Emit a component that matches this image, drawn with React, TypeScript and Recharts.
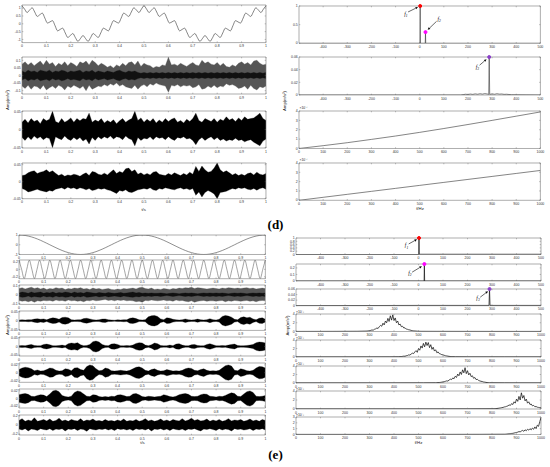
import React from 'react';
import { ComposedChart, Line, Area, XAxis, YAxis, ReferenceArea, ReferenceDot, ReferenceLine } from 'recharts';

// ---------- sampling grids ----------
const grid = (n: number) => Array.from({ length: n + 1 }, (_, i) => i / n);
const T80 = grid(80);
const T96 = grid(96);

// ---------- tick labels ----------
const LT = [0, 0.1, 0.2, 0.3, 0.4, 0.5, 0.6, 0.7, 0.8, 0.9, 1];
const RT_SYM = [-400, -300, -200, -100, 0, 100, 200, 300, 400, 500];
const RT_POS = [0, 100, 200, 300, 400, 500, 600, 700, 800, 900, 1000];

// ---------- (d) left ----------
const D1 = [
  1.15, 0.94, 0.72, 0.88, 1.02, 0.75, 0.47, 0.58,
  0.68, 0.36, 0.05, 0.12, 0.2, -0.12, -0.45, -0.36,
  -0.28, -0.58, -0.87, -0.75, -0.62, -0.88, -1.12, -0.94,
  -0.75, -0.94, -1.12, -0.88, -0.62, -0.75, -0.87, -0.58,
  -0.28, -0.36, -0.45, -0.12, 0.2, 0.12, 0.05, 0.36,
  0.68, 0.58, 0.47, 0.75, 1.02, 0.88, 0.72, 0.94,
  1.15, 0.94, 0.72, 0.88, 1.02, 0.75, 0.47, 0.58,
  0.68, 0.36, 0.05, 0.12, 0.2, -0.12, -0.45, -0.36,
  -0.28, -0.58, -0.87, -0.75, -0.62, -0.88, -1.12, -0.94,
  -0.75, -0.94, -1.12, -0.88, -0.62, -0.75, -0.87, -0.58,
  -0.28, -0.36, -0.45, -0.12, 0.2, 0.12, 0.05, 0.36,
  0.68, 0.58, 0.47, 0.75, 1.02, 0.88, 0.72, 0.94,
  1.15,
];
const D2_HI = [
  0.075, 0.09, 0.07, 0.085, 0.065, 0.08, 0.095, 0.07, 0.1,
  0.075, 0.085, 0.06, 0.08, 0.07, 0.09, 0.065, 0.085, 0.075,
  0.06, 0.09, 0.08, 0.095, 0.07, 0.1, 0.085, 0.065, 0.08,
  0.07, 0.055, 0.065, 0.05, 0.07, 0.06, 0.08, 0.065, 0.085,
  0.09, 0.07, 0.095, 0.06, 0.08, 0.07, 0.065, 0.05, 0.06,
  0.055, 0.07, 0.065, 0.12, 0.07, 0.075, 0.065, 0.08, 0.07,
  0.06, 0.075, 0.085, 0.07, 0.065, 0.1, 0.08, 0.09, 0.075,
  0.07, 0.085, 0.065, 0.08, 0.06, 0.055, 0.07, 0.06, 0.08,
  0.09, 0.075, 0.085, 0.07, 0.095, 0.1, 0.08, 0.07, 0.075,
];
const D2_LO = [
  -0.07, -0.085, -0.065, -0.09, -0.07, -0.075, -0.09, -0.065, -0.095,
  -0.08, -0.07, -0.085, -0.065, -0.075, -0.095, -0.07, -0.08, -0.065,
  -0.075, -0.085, -0.07, -0.1, -0.065, -0.09, -0.08, -0.07, -0.075,
  -0.06, -0.07, -0.055, -0.065, -0.05, -0.07, -0.06, -0.075, -0.08,
  -0.085, -0.065, -0.09, -0.07, -0.06, -0.075, -0.055, -0.065, -0.05,
  -0.06, -0.065, -0.07, -0.11, -0.065, -0.07, -0.06, -0.075, -0.065,
  -0.07, -0.065, -0.08, -0.075, -0.06, -0.09, -0.085, -0.07, -0.08,
  -0.065, -0.08, -0.07, -0.075, -0.055, -0.065, -0.06, -0.07, -0.085,
  -0.08, -0.07, -0.09, -0.065, -0.085, -0.095, -0.075, -0.08, -0.07,
];
const D2_CORE = [
  0.03, 0.02, 0.035, 0.025, 0.03, 0.02, 0.035, 0.03, 0.025,
  0.035, 0.02, 0.03, 0.025, 0.035, 0.03, 0.02, 0.03, 0.025,
  0.03, 0.035, 0.02, 0.03, 0.025, 0.035, 0.02, 0.03, 0.025,
  0.02, 0.03, 0.025, 0.02, 0.03, 0.035, 0.025, 0.02, 0.03,
  0.025, 0.03, 0.02, 0.015, 0.02, 0.015, 0.02, 0.015, 0.02,
  0.015, 0.02, 0.015, 0.02, 0.015, 0.02, 0.015, 0.02, 0.015,
  0.02, 0.015, 0.02, 0.015, 0.02, 0.015, 0.02, 0.015, 0.02,
  0.015, 0.02, 0.015, 0.02, 0.015, 0.02, 0.015, 0.02, 0.015,
  0.02, 0.015, 0.02, 0.015, 0.02, 0.015, 0.02, 0.015, 0.02,
];
const D3_HI = [
  0.02, 0.028, 0.018, 0.03, 0.022, 0.026, 0.016, 0.03, 0.024,
  0.028, 0.05, 0.022, 0.018, 0.03, 0.02, 0.025, 0.032, 0.02,
  0.03, 0.024, 0.03, 0.028, 0.045, 0.02, 0.026, 0.022, 0.03,
  0.018, 0.025, 0.02, 0.027, 0.016, 0.024, 0.03, 0.02, 0.026,
  0.03, 0.05, 0.025, 0.032, 0.02, 0.028, 0.022, 0.03, 0.018,
  0.026, 0.02, 0.03, 0.022, 0.028, 0.032, 0.02, 0.025, 0.018,
  0.028, 0.022, 0.03, 0.045, 0.025, 0.02, 0.03, 0.026, 0.022,
  0.03, 0.02, 0.028, 0.024, 0.035, 0.026, 0.03, 0.022, 0.032,
  0.025, 0.035, 0.028, 0.03, 0.032, 0.038, 0.045, 0.03, 0.025,
];
const D3_LO = [
  -0.022, -0.03, -0.02, -0.028, -0.018, -0.025, -0.02, -0.028, -0.022,
  -0.025, -0.05, -0.02, -0.025, -0.028, -0.018, -0.026, -0.03, -0.022,
  -0.028, -0.022, -0.032, -0.026, -0.04, -0.022, -0.03, -0.02, -0.026,
  -0.02, -0.024, -0.018, -0.026, -0.02, -0.022, -0.028, -0.018, -0.025,
  -0.028, -0.045, -0.022, -0.03, -0.024, -0.026, -0.02, -0.028, -0.02,
  -0.024, -0.022, -0.028, -0.02, -0.026, -0.03, -0.022, -0.024, -0.02,
  -0.026, -0.024, -0.03, -0.042, -0.028, -0.022, -0.03, -0.024, -0.02,
  -0.028, -0.022, -0.03, -0.026, -0.032, -0.028, -0.03, -0.024, -0.03,
  -0.028, -0.034, -0.03, -0.028, -0.035, -0.04, -0.045, -0.032, -0.026,
];
const D4_HI = [
  0.018, 0.02, 0.026, 0.03, 0.032, 0.024, 0.028, 0.03, 0.035,
  0.028, 0.032, 0.025, 0.018, 0.022, 0.016, 0.02, 0.018, 0.022,
  0.02, 0.016, 0.022, 0.026, 0.018, 0.03, 0.028, 0.022, 0.02,
  0.025, 0.02, 0.028, 0.035, 0.024, 0.03, 0.026, 0.038, 0.04,
  0.03, 0.035, 0.022, 0.026, 0.02, 0.024, 0.02, 0.028, 0.03,
  0.022, 0.02, 0.018, 0.024, 0.02, 0.026, 0.022, 0.018, 0.024,
  0.02, 0.028, 0.022, 0.045, 0.03, 0.046, 0.035, 0.028, 0.03,
  0.04, 0.055, 0.035, 0.028, 0.032, 0.026, 0.02, 0.024, 0.018,
  0.022, 0.018, 0.024, 0.026, 0.02, 0.028, 0.022, 0.02, 0.024,
];
const D4_LO = [
  -0.02, -0.024, -0.03, -0.028, -0.025, -0.022, -0.026, -0.028, -0.03,
  -0.026, -0.028, -0.022, -0.02, -0.018, -0.022, -0.016, -0.02, -0.018,
  -0.022, -0.018, -0.02, -0.024, -0.02, -0.026, -0.024, -0.02, -0.022,
  -0.02, -0.024, -0.026, -0.03, -0.035, -0.026, -0.028, -0.024, -0.03,
  -0.032, -0.028, -0.024, -0.022, -0.02, -0.022, -0.018, -0.024, -0.026,
  -0.02, -0.022, -0.018, -0.02, -0.022, -0.024, -0.02, -0.018, -0.022,
  -0.02, -0.024, -0.02, -0.04, -0.03, -0.045, -0.032, -0.026, -0.03,
  -0.036, -0.05, -0.032, -0.03, -0.028, -0.024, -0.02, -0.022, -0.018,
  -0.02, -0.018, -0.022, -0.024, -0.02, -0.025, -0.02, -0.018, -0.022,
];

// ---------- (d) right ----------
const RD1_F = [-500, 0, 1, 2, 3, 23, 24, 25, 500];
const RD1_A = [0, 0, 0, 1, 0, 0, 0.3, 0, 0];
const RD2_F = [-500, 0, 170, 180, 190, 200, 210, 220, 230, 240, 250, 260, 270, 280, 286, 288, 290, 300, 310, 320, 330, 340, 350, 360, 370, 380, 500];
const RD2_A = [0, 0, 0, 0.0006, 0.0012, 0.0008, 0.0015, 0.001, 0.0018, 0.0012, 0.002, 0.0014, 0.0022, 0.0016, 0.001, 0.06, 0.001, 0.0018, 0.0012, 0.002, 0.0014, 0.0016, 0.001, 0.0012, 0.0008, 0.0004, 0];
const RD3_A = [0, 0.3, 0.62, 0.97, 1.33, 1.72, 2.13, 2.56, 3.0, 3.45, 3.9];
const RD4_A = [0, 0.32, 0.64, 0.96, 1.28, 1.6, 1.92, 2.24, 2.56, 2.88, 3.2];

// ---------- (e) left ----------
const E1 = [
  1, 0.988, 0.951, 0.891, 0.809, 0.707, 0.588, 0.454, 0.309,
  0.156, 0, -0.156, -0.309, -0.454, -0.588, -0.707, -0.809, -0.891,
  -0.951, -0.988, -1, -0.988, -0.951, -0.891, -0.809, -0.707, -0.588,
  -0.454, -0.309, -0.156, 0, 0.156, 0.309, 0.454, 0.588, 0.707,
  0.809, 0.891, 0.951, 0.988, 1, 0.988, 0.951, 0.891, 0.809,
  0.707, 0.588, 0.454, 0.309, 0.156, 0, -0.156, -0.309, -0.454,
  -0.588, -0.707, -0.809, -0.891, -0.951, -0.988, -1, -0.988, -0.951,
  -0.891, -0.809, -0.707, -0.588, -0.454, -0.309, -0.156, 0, 0.156,
  0.309, 0.454, 0.588, 0.707, 0.809, 0.891, 0.951, 0.988, 1,
];
const E2 = [
  0.25, 0, -0.25, 0, 0.25, 0, -0.25, 0,
  0.25, 0, -0.25, 0, 0.25, 0, -0.25, 0,
  0.25, 0, -0.25, 0, 0.25, 0, -0.25, 0,
  0.25, 0, -0.25, 0, 0.25, 0, -0.25, 0,
  0.25, 0, -0.25, 0, 0.25, 0, -0.25, 0,
  0.25, 0, -0.25, 0, 0.25, 0, -0.25, 0,
  0.25, 0, -0.25, 0, 0.25, 0, -0.25, 0,
  0.25, 0, -0.25, 0, 0.25, 0, -0.25, 0,
  0.25, 0, -0.25, 0, 0.25, 0, -0.25, 0,
  0.25, 0, -0.25, 0, 0.25, 0, -0.25, 0,
  0.25, 0, -0.25, 0, 0.25, 0, -0.25, 0,
  0.25, 0, -0.25, 0, 0.25, 0, -0.25, 0,
  0.25,
];
const E3_HI = [
  0.07, 0.08, 0.065, 0.075, 0.085, 0.07, 0.08, 0.065, 0.075,
  0.06, 0.07, 0.065, 0.08, 0.07, 0.075, 0.06, 0.07, 0.065,
  0.075, 0.07, 0.08, 0.065, 0.07, 0.06, 0.075, 0.065, 0.07,
  0.06, 0.065, 0.07, 0.06, 0.055, 0.065, 0.06, 0.07, 0.065,
  0.07, 0.075, 0.065, 0.08, 0.085, 0.07, 0.065, 0.075, 0.06,
  0.065, 0.06, 0.07, 0.065, 0.06, 0.07, 0.065, 0.075, 0.07,
  0.08, 0.075, 0.085, 0.07, 0.08, 0.075, 0.07, 0.065, 0.07,
  0.075, 0.07, 0.065, 0.075, 0.07, 0.08, 0.075, 0.07, 0.075,
  0.07, 0.075, 0.08, 0.07, 0.075, 0.065, 0.07, 0.075, 0.07,
];
const E3_LO = [
  -0.065, -0.075, -0.07, -0.08, -0.07, -0.085, -0.07, -0.075, -0.065,
  -0.07, -0.065, -0.075, -0.06, -0.07, -0.065, -0.075, -0.06, -0.07,
  -0.065, -0.075, -0.07, -0.08, -0.065, -0.07, -0.06, -0.07, -0.065,
  -0.06, -0.055, -0.065, -0.06, -0.07, -0.06, -0.065, -0.06, -0.07,
  -0.065, -0.07, -0.08, -0.075, -0.085, -0.065, -0.07, -0.06, -0.065,
  -0.07, -0.065, -0.06, -0.07, -0.065, -0.075, -0.06, -0.07, -0.065,
  -0.075, -0.08, -0.07, -0.085, -0.075, -0.07, -0.065, -0.075, -0.07,
  -0.07, -0.075, -0.07, -0.065, -0.08, -0.07, -0.075, -0.065, -0.07,
  -0.075, -0.07, -0.065, -0.075, -0.07, -0.08, -0.07, -0.065, -0.07,
];
const E3_CORE = [
  0.02, 0.03, 0.025, 0.015, 0.03, 0.02, 0.025, 0.03, 0.015,
  0.025, 0.02, 0.03, 0.015, 0.025, 0.02, 0.03, 0.025, 0.015,
  0.03, 0.02, 0.025, 0.015, 0.03, 0.025, 0.02, 0.015, 0.025,
  0.02, 0.015, 0.025, 0.02, 0.015, 0.02, 0.025, 0.015, 0.02,
  0.025, 0.03, 0.02, 0.025, 0.015, 0.02, 0.015, 0.02, 0.015,
  0.015, 0.02, 0.015, 0.01, 0.015, 0.02, 0.015, 0.01, 0.015,
  0.02, 0.015, 0.02, 0.015, 0.01, 0.015, 0.02, 0.015, 0.02,
  0.015, 0.02, 0.015, 0.02, 0.015, 0.01, 0.015, 0.02, 0.015,
  0.02, 0.015, 0.01, 0.015, 0.02, 0.015, 0.02, 0.015, 0.02,
];
const E4_ENV = [
  0.004, 0.005, 0.004, 0.006, 0.005, 0.009, 0.011, 0.008, 0.01,
  0.005, 0.012, 0.016, 0.014, 0.008, 0.018, 0.02, 0.016, 0.006,
  0.004, 0.005, 0.006, 0.012, 0.014, 0.01, 0.006, 0.004, 0.005,
  0.009, 0.01, 0.005, 0.004, 0.003, 0.005, 0.004, 0.006, 0.005,
  0.014, 0.016, 0.012, 0.005, 0.004, 0.006, 0.022, 0.028, 0.03,
  0.024, 0.01, 0.006, 0.016, 0.014, 0.008, 0.005, 0.004, 0.005,
  0.01, 0.006, 0.004, 0.005, 0.009, 0.005, 0.004, 0.006, 0.011,
  0.006, 0.004, 0.008, 0.024, 0.03, 0.026, 0.02, 0.008, 0.005,
  0.018, 0.022, 0.016, 0.02, 0.01, 0.005, 0.014, 0.016, 0.008,
];
const E5_ENV = [
  0.004, 0.006, 0.005, 0.008, 0.012, 0.006, 0.004, 0.005, 0.012,
  0.014, 0.01, 0.005, 0.004, 0.006, 0.008, 0.005, 0.016, 0.02,
  0.018, 0.022, 0.01, 0.005, 0.006, 0.012, 0.028, 0.032, 0.026,
  0.012, 0.006, 0.005, 0.014, 0.016, 0.012, 0.005, 0.004, 0.006,
  0.005, 0.008, 0.018, 0.022, 0.02, 0.008, 0.005, 0.01, 0.02,
  0.016, 0.006, 0.004, 0.005, 0.008, 0.005, 0.014, 0.016, 0.008,
  0.005, 0.004, 0.01, 0.012, 0.006, 0.004, 0.005, 0.012, 0.016,
  0.01, 0.005, 0.004, 0.006, 0.005, 0.008, 0.012, 0.014, 0.006,
  0.004, 0.005, 0.006, 0.008, 0.012, 0.022, 0.026, 0.024, 0.02,
];
const E6_ENV = [
  0.008, 0.012, 0.014, 0.013, 0.01, 0.005, 0.007, 0.004, 0.005,
  0.008, 0.012, 0.011, 0.006, 0.004, 0.005, 0.01, 0.009, 0.005,
  0.012, 0.013, 0.008, 0.006, 0.016, 0.02, 0.018, 0.01, 0.005,
  0.006, 0.012, 0.01, 0.005, 0.004, 0.005, 0.006, 0.005, 0.004,
  0.006, 0.01, 0.014, 0.015, 0.012, 0.006, 0.004, 0.008, 0.01,
  0.006, 0.004, 0.005, 0.008, 0.006, 0.004, 0.005, 0.004, 0.006,
  0.01, 0.012, 0.011, 0.006, 0.005, 0.008, 0.01, 0.006, 0.004,
  0.005, 0.004, 0.006, 0.012, 0.018, 0.02, 0.017, 0.006, 0.005,
  0.01, 0.008, 0.005, 0.004, 0.006, 0.012, 0.016, 0.015, 0.012,
];
const E7_ENV = [
  0.01, 0.012, 0.013, 0.011, 0.006, 0.005, 0.008, 0.01, 0.009,
  0.005, 0.012, 0.02, 0.022, 0.018, 0.008, 0.005, 0.004, 0.006,
  0.016, 0.02, 0.018, 0.012, 0.006, 0.005, 0.01, 0.009, 0.005,
  0.004, 0.005, 0.004, 0.006, 0.005, 0.009, 0.01, 0.008, 0.005,
  0.006, 0.012, 0.013, 0.01, 0.005, 0.004, 0.006, 0.005, 0.004,
  0.005, 0.006, 0.01, 0.008, 0.005, 0.004, 0.006, 0.01, 0.012,
  0.013, 0.011, 0.006, 0.005, 0.006, 0.01, 0.012, 0.011, 0.006,
  0.005, 0.004, 0.006, 0.005, 0.008, 0.012, 0.015, 0.013, 0.006,
  0.005, 0.012, 0.018, 0.02, 0.016, 0.006, 0.005, 0.006, 0.008,
];
const E8_HI = [
  0.1, 0.14, 0.08, 0.11, 0.09, 0.16, 0.08, 0.1, 0.12,
  0.09, 0.13, 0.08, 0.1, 0.15, 0.09, 0.11, 0.08, 0.12,
  0.1, 0.09, 0.14, 0.08, 0.11, 0.1, 0.13, 0.09, 0.1,
  0.08, 0.12, 0.09, 0.1, 0.08, 0.11, 0.09, 0.13, 0.08,
  0.1, 0.09, 0.12, 0.08, 0.1, 0.14, 0.09, 0.11, 0.08,
  0.1, 0.13, 0.09, 0.11, 0.08, 0.12, 0.1, 0.09, 0.14,
  0.09, 0.11, 0.15, 0.1, 0.12, 0.09, 0.1, 0.13, 0.08,
  0.11, 0.09, 0.12, 0.08, 0.1, 0.14, 0.09, 0.11, 0.1,
  0.12, 0.08, 0.1, 0.13, 0.09, 0.11, 0.08, 0.12, 0.1,
];
const E8_LO = [
  -0.09, -0.11, -0.08, -0.13, -0.09, -0.1, -0.12, -0.08, -0.1,
  -0.11, -0.08, -0.12, -0.09, -0.1, -0.08, -0.13, -0.09, -0.1,
  -0.08, -0.12, -0.09, -0.1, -0.14, -0.08, -0.1, -0.11, -0.09,
  -0.1, -0.08, -0.11, -0.09, -0.12, -0.08, -0.1, -0.09, -0.11,
  -0.09, -0.12, -0.08, -0.1, -0.09, -0.11, -0.08, -0.13, -0.09,
  -0.1, -0.08, -0.11, -0.09, -0.12, -0.08, -0.1, -0.11, -0.09,
  -0.12, -0.09, -0.1, -0.08, -0.11, -0.13, -0.09, -0.1, -0.08,
  -0.1, -0.12, -0.08, -0.11, -0.09, -0.1, -0.13, -0.08, -0.1,
  -0.09, -0.11, -0.1, -0.08, -0.12, -0.09, -0.1, -0.08, -0.11,
];

// ---------- (e) right ----------
const RE1_F = [-500, 0, 1, 2, 3, 500];
const RE1_A = [0, 0, 0, 1, 0.015, 0.015];
const RE2_F = [-500, 23, 24, 25, 500];
const RE2_A = [0, 0, 0.26, 0, 0];
const RE3_F = [-500, 0, 288, 290, 292, 500];
const RE3_A = [0, 0.001, 0.001, 0.06, 0.001, 0.001];
// bump spectra: start frequency, 5 Hz steps
const RE4_START = 290;
const RE4_A = [0.1, 0.15, 0.2, 0.25, 0.35, 0.3, 0.5, 0.6, 0.8, 0.7, 1.1, 1.4, 1.2, 1.9, 1.5, 2.4, 2.0, 3.0, 2.3, 3.6, 2.6, 3.8, 2.5, 3.1, 2.0, 2.4, 1.5, 1.7, 1.1, 1.2, 0.8, 0.85, 0.55, 0.5, 0.4, 0.35, 0.25, 0.2, 0.15, 0.12, 0.1, 0.08, 0.06, 0.05, 0.04];
const RE4_PRE: [number, number][] = [[0, 0.02], [150, 0.03], [250, 0.05]];
const RE4_POST: [number, number][] = [[600, 0.03], [800, 0.02], [1000, 0.02]];
const RE5_START = 420;
const RE5_A = [0.05, 0.08, 0.1, 0.15, 0.2, 0.18, 0.3, 0.35, 0.5, 0.45, 0.7, 0.9, 0.8, 1.2, 1.5, 1.1, 2.0, 1.6, 2.6, 2.1, 3.2, 2.4, 3.5, 2.7, 3.4, 2.2, 2.9, 1.8, 2.3, 1.4, 1.7, 1.0, 1.2, 0.8, 0.7, 0.55, 0.5, 0.4, 0.3, 0.25, 0.2, 0.15, 0.12, 0.1, 0.08, 0.06, 0.05];
const RE5_PRE: [number, number][] = [[0, 0.02], [200, 0.02], [380, 0.03]];
const RE5_POST: [number, number][] = [[700, 0.03], [850, 0.02], [1000, 0.02]];
const RE6_START = 570;
const RE6_A = [0.05, 0.06, 0.1, 0.12, 0.15, 0.2, 0.25, 0.3, 0.4, 0.5, 0.45, 0.7, 0.9, 0.8, 1.2, 1.0, 1.6, 1.3, 2.1, 1.7, 2.6, 2.0, 3.1, 2.4, 3.6, 2.2, 2.9, 1.9, 2.3, 1.5, 1.7, 1.1, 1.3, 0.8, 0.9, 0.6, 0.5, 0.4, 0.35, 0.25, 0.2, 0.15, 0.1, 0.08, 0.05];
const RE6_PRE: [number, number][] = [[0, 0.02], [300, 0.02], [520, 0.03]];
const RE6_POST: [number, number][] = [[850, 0.03], [1000, 0.02]];
const RE7_START = 800;
const RE7_A = [0.05, 0.06, 0.08, 0.1, 0.12, 0.15, 0.2, 0.25, 0.3, 0.35, 0.45, 0.5, 0.6, 0.7, 0.9, 0.8, 1.2, 1.0, 1.6, 1.3, 2.2, 1.7, 2.8, 2.0, 3.6, 2.4, 3.0, 1.8, 2.2, 1.3, 1.6, 1.0, 1.1, 0.7, 0.8, 0.5, 0.55, 0.4, 0.35, 0.3, 0.25];
const RE7_PRE: [number, number][] = [[0, 0.02], [400, 0.02], [700, 0.03]];
const RE7_POST: [number, number][] = [];
const RE8_START = 850;
const RE8_A = [0.05, 0.06, 0.08, 0.1, 0.12, 0.15, 0.18, 0.2, 0.25, 0.3, 0.35, 0.4, 0.5, 0.45, 0.6, 0.7, 0.55, 0.8, 0.65, 0.9, 0.75, 1.0, 0.8, 1.1, 0.9, 1.3, 1.0, 1.6, 1.4, 2.2, 2.9];
const RE8_PRE: [number, number][] = [[0, 0.02], [500, 0.02], [750, 0.03]];

// annotation arrows (data coordinates): tail -> head
const ARROWS = {
  rd1f1: [{ x: -48, y: 0.84 }, { x: -7, y: 0.97 }],
  rd1f2: [{ x: 70, y: 0.59 }, { x: 33, y: 0.36 }],
  rd2f3: [{ x: 248, y: 0.047 }, { x: 277, y: 0.0565 }],
  re1f1: [{ x: -40, y: 0.64 }, { x: -6, y: 0.92 }],
  re2f2: [{ x: -26, y: 0.135 }, { x: 14, y: 0.226 }],
  re3f3: [{ x: 252, y: 0.0305 }, { x: 284, y: 0.052 }],
};

// ---------- helpers ----------
const series = (xs: number[], ys: number[]) => xs.map((x, i) => ({ x, y: ys[i] }));
const bandRows = (xs: number[], hi: number[], lo: number[], core?: number[]) =>
  xs.map((x, i) => ({ x, band: [lo[i], hi[i]], core: core ? [-core[i], core[i]] : undefined }));
const envRows = (xs: number[], env: number[]) => xs.map((x, i) => ({ x, band: [-env[i], env[i]] }));
const bumpRows = (pre: [number, number][], start: number, amps: number[], post: [number, number][]) => [
  ...pre.map(([x, y]) => ({ x, y })),
  ...amps.map((y, i) => ({ x: start + 5 * i, y })),
  ...post.map(([x, y]) => ({ x, y })),
];

const FONT = '"Liberation Sans", Arial, sans-serif';
const TFS = 3.5;
const fmt = (v: number) => String(v);

type PanelProps = {
  x0: number; y0: number; w: number; h: number;
  xd: [number, number]; xt: number[]; yd: [number, number]; yt: number[];
  data: any[]; children?: React.ReactNode;
};

function Panel({ x0, y0, w, h, xd, xt, yd, yt, data, children }: PanelProps) {
  const YW = 20, TM = 5, XH = 8, RM = 5;
  const W = YW + w + RM, H = TM + h + XH;
  const top = TM, bot = TM + h, left = YW, right = YW + w;
  const xTick = (p: any) => (
    <g>
      <line x1={p.x} x2={p.x} y1={bot} y2={bot - 1.3} stroke="#666" strokeWidth={0.4} />
      <line x1={p.x} x2={p.x} y1={top} y2={top + 1.3} stroke="#666" strokeWidth={0.4} />
      <text x={p.x} y={bot + 4.6} textAnchor="middle" fontSize={TFS} fill="#333" fontFamily={FONT}>{fmt(p.payload.value)}</text>
    </g>
  );
  const yTick = (p: any) => (
    <g>
      <line x1={left} x2={left + 1.3} y1={p.y} y2={p.y} stroke="#666" strokeWidth={0.4} />
      <line x1={right} x2={right - 1.3} y1={p.y} y2={p.y} stroke="#666" strokeWidth={0.4} />
      <text x={left - 1.2} y={p.y + 1.2} textAnchor="end" fontSize={TFS} fill="#333" fontFamily={FONT}>{fmt(p.payload.value)}</text>
    </g>
  );
  return (
    <div style={{ position: 'absolute', left: x0 - YW, top: y0 - TM, width: W, height: H }}>
      <ComposedChart width={W} height={H} data={data} margin={{ top: TM, right: RM, left: 0, bottom: 0 }}>
        <XAxis dataKey="x" type="number" domain={xd} ticks={xt} interval={0} tick={xTick} tickLine={false} axisLine={false} height={XH} allowDataOverflow />
        <YAxis type="number" domain={yd} ticks={yt} interval={0} tick={yTick} tickLine={false} axisLine={false} width={YW} allowDataOverflow />
        {children}
        <ReferenceArea x1={xd[0]} x2={xd[1]} y1={yd[0]} y2={yd[1]} fill="none" fillOpacity={0} stroke="#777" strokeWidth={0.6} ifOverflow="visible" />
      </ComposedChart>
    </div>
  );
}

function arrowShape(sub: string, dx: number, dy: number, anchor: 'start' | 'end') {
  return (p: any) => {
    const { x1, y1, x2, y2 } = p;
    const a = Math.atan2(y2 - y1, x2 - x1);
    const L = 2.6, Wd = 1.2;
    const bx = x2 - L * Math.cos(a), by = y2 - L * Math.sin(a);
    const nx = -Math.sin(a) * Wd, ny = Math.cos(a) * Wd;
    return (
      <g>
        <line x1={x1} y1={y1} x2={bx} y2={by} stroke="#000" strokeWidth={0.6} />
        <polygon points={`${x2},${y2} ${bx + nx},${by + ny} ${bx - nx},${by - ny}`} fill="#000" />
        <text x={x1 + dx} y={y1 + dy} textAnchor={anchor} fontFamily='"Liberation Serif", serif' fontStyle="italic" fontSize={5.5} fill="#000">
          f<tspan fontSize={3.6} dy={1.2}>{sub}</tspan>
        </text>
      </g>
    );
  };
}

const lineEl = (color = '#333', w = 0.6, type: any = 'linear') => (
  <Line dataKey="y" type={type} stroke={color} strokeWidth={w} dot={false} activeDot={false} isAnimationActive={false} />
);
const bandEl = (key: string, color: string) => (
  <Area key={key} dataKey={key} type="linear" stroke={color} strokeWidth={0.3} fill={color} fillOpacity={1} dot={false} activeDot={false} isAnimationActive={false} />
);

const RED = '#ff0000', MAG = '#ff00ff', PUR = '#8b3fc9';

export default function App() {
  const LD = { x0: 21.7, w: 244 };
  const RD = { x0: 299.3, w: 241.4 };
  const LE = { x0: 19.3, w: 246.4 };
  const RE = { x0: 295.7, w: 245 };
  const txt = { fontFamily: FONT, fill: '#222' } as const;
  return (
    <div style={{ position: 'absolute', left: 0, top: 0, width: 550, height: 467, background: '#fff', overflow: 'hidden' }}>
      {/* (d) left */}
      <Panel {...LD} y0={4.7} h={37.6} xd={[0, 1]} xt={LT} yd={[-1.2, 1.2]} yt={[-1, -0.5, 0, 0.5, 1]} data={series(T96, D1)}>
        {lineEl('#333', 0.6, 'monotone')}
      </Panel>
      <Panel {...LD} y0={57.3} h={37} xd={[0, 1]} xt={LT} yd={[-0.122, 0.122]} yt={[-0.1, -0.05, 0, 0.05, 0.1]} data={bandRows(T80, D2_HI, D2_LO, D2_CORE)}>
        {bandEl('band', '#555')}
        {bandEl('core', '#111')}
      </Panel>
      <Panel {...LD} y0={111} h={37} xd={[0, 1]} xt={LT} yd={[-0.051, 0.051]} yt={[-0.05, 0, 0.05]} data={bandRows(T80, D3_HI, D3_LO)}>
        {bandEl('band', '#000')}
      </Panel>
      <Panel {...LD} y0={163.3} h={35.7} xd={[0, 1]} xt={LT} yd={[-0.05, 0.055]} yt={[-0.05, 0, 0.05]} data={bandRows(T80, D4_HI, D4_LO)}>
        {bandEl('band', '#000')}
      </Panel>

      {/* (d) right */}
      <Panel {...RD} y0={5.7} h={37.3} xd={[-500, 500]} xt={RT_SYM} yd={[0, 1]} yt={[0, 0.5, 1]} data={series(RD1_F, RD1_A)}>
        {lineEl()}
        <ReferenceDot x={2} y={1} r={1.5} fill={RED} stroke={RED} ifOverflow="visible" />
        <ReferenceDot x={24} y={0.3} r={1.5} fill={MAG} stroke={MAG} ifOverflow="visible" />
        <ReferenceLine segment={ARROWS.rd1f1} shape={arrowShape('1', -0.5, 4, 'end')} ifOverflow="visible" />
        <ReferenceLine segment={ARROWS.rd1f2} shape={arrowShape('2', 0.8, -0.5, 'start')} ifOverflow="visible" />
      </Panel>
      <Panel {...RD} y0={57.3} h={38} xd={[-500, 500]} xt={RT_SYM} yd={[0, 0.06]} yt={[0, 0.02, 0.04, 0.06]} data={series(RD2_F, RD2_A)}>
        {lineEl()}
        <ReferenceDot x={288} y={0.06} r={1.5} fill={PUR} stroke={PUR} ifOverflow="visible" />
        <ReferenceLine segment={ARROWS.rd2f3} shape={arrowShape('3', -0.5, 4, 'end')} ifOverflow="visible" />
      </Panel>
      <Panel {...RD} y0={110.5} h={37.5} xd={[0, 1000]} xt={RT_POS} yd={[0, 4]} yt={[0, 1, 2, 3, 4]} data={series(RT_POS, RD3_A)}>
        {lineEl('#333', 0.6, 'monotone')}
      </Panel>
      <Panel {...RD} y0={162.7} h={37.3} xd={[0, 1000]} xt={RT_POS} yd={[0, 4]} yt={[0, 1, 2, 3, 4]} data={series(RT_POS, RD4_A)}>
        {lineEl('#333', 0.6, 'monotone')}
      </Panel>

      {/* (e) left */}
      <Panel {...LE} y0={234.7} h={19.5} xd={[0, 1]} xt={LT} yd={[-1, 1]} yt={[-1, 0, 1]} data={series(T80, E1)}>
        {lineEl('#444', 0.6, 'monotone')}
      </Panel>
      <Panel {...LE} y0={260.3} h={18.7} xd={[0, 1]} xt={LT} yd={[-0.255, 0.255]} yt={[-0.2, 0, 0.2]} data={series(T96, E2)}>
        {lineEl('#444', 0.5, 'monotone')}
      </Panel>
      <Panel {...LE} y0={285.3} h={19.4} xd={[0, 1]} xt={LT} yd={[-0.11, 0.11]} yt={[-0.1, 0, 0.1]} data={bandRows(T80, E3_HI, E3_LO, E3_CORE)}>
        {bandEl('band', '#555')}
        {bandEl('core', '#111')}
      </Panel>
      <Panel {...LE} y0={311.3} h={19.4} xd={[0, 1]} xt={LT} yd={[-0.055, 0.055]} yt={[-0.05, 0, 0.05]} data={envRows(T80, E4_ENV)}>
        {bandEl('band', '#000')}
      </Panel>
      <Panel {...LE} y0={337.3} h={19} xd={[0, 1]} xt={LT} yd={[-0.055, 0.055]} yt={[-0.05, 0, 0.05]} data={envRows(T80, E5_ENV)}>
        {bandEl('band', '#000')}
      </Panel>
      <Panel {...LE} y0={363} h={19.3} xd={[0, 1]} xt={LT} yd={[-0.025, 0.025]} yt={[-0.02, 0, 0.02]} data={envRows(T80, E6_ENV)}>
        {bandEl('band', '#000')}
      </Panel>
      <Panel {...LE} y0={389} h={19} xd={[0, 1]} xt={LT} yd={[-0.025, 0.025]} yt={[-0.02, 0, 0.02]} data={envRows(T80, E7_ENV)}>
        {bandEl('band', '#000')}
      </Panel>
      <Panel {...LE} y0={414.7} h={20} xd={[0, 1]} xt={LT} yd={[-0.22, 0.22]} yt={[-0.2, 0, 0.2]} data={bandRows(T80, E8_HI, E8_LO)}>
        {bandEl('band', '#000')}
      </Panel>

      {/* (e) right */}
      <Panel {...RE} y0={238} h={16.5} xd={[-500, 500]} xt={RT_SYM} yd={[0, 1]} yt={[0, 0.2, 0.4, 0.6, 0.8, 1]} data={series(RE1_F, RE1_A)}>
        {lineEl('#222', 0.8)}
        <ReferenceDot x={2} y={1} r={1.5} fill={RED} stroke={RED} ifOverflow="visible" />
        <ReferenceLine segment={ARROWS.re1f1} shape={arrowShape('1', -0.5, 3.5, 'end')} ifOverflow="visible" />
      </Panel>
      <Panel {...RE} y0={263.5} h={17} xd={[-500, 500]} xt={RT_SYM} yd={[0, 0.26]} yt={[0, 0.1, 0.2]} data={series(RE2_F, RE2_A)}>
        {lineEl('#222', 0.8)}
        <ReferenceDot x={24} y={0.26} r={1.5} fill={MAG} stroke={MAG} ifOverflow="visible" />
        <ReferenceLine segment={ARROWS.re2f2} shape={arrowShape('2', -0.5, 3, 'end')} ifOverflow="visible" />
      </Panel>
      <Panel {...RE} y0={288.5} h={16.7} xd={[-500, 500]} xt={RT_SYM} yd={[0, 0.06]} yt={[0, 0.02, 0.04, 0.06]} data={series(RE3_F, RE3_A)}>
        {lineEl('#222', 0.8)}
        <ReferenceDot x={290} y={0.06} r={1.5} fill={PUR} stroke={PUR} ifOverflow="visible" />
        <ReferenceLine segment={ARROWS.re3f3} shape={arrowShape('3', -0.5, 3, 'end')} ifOverflow="visible" />
      </Panel>
      <Panel {...RE} y0={314} h={17.5} xd={[0, 1000]} xt={RT_POS} yd={[0, 4]} yt={[0, 2, 4]} data={bumpRows(RE4_PRE, RE4_START, RE4_A, RE4_POST)}>
        {lineEl('#111', 0.75)}
      </Panel>
      <Panel {...RE} y0={339.5} h={17} xd={[0, 1000]} xt={RT_POS} yd={[0, 4]} yt={[0, 2, 4]} data={bumpRows(RE5_PRE, RE5_START, RE5_A, RE5_POST)}>
        {lineEl('#111', 0.75)}
      </Panel>
      <Panel {...RE} y0={366} h={17} xd={[0, 1000]} xt={RT_POS} yd={[0, 4]} yt={[0, 2, 4]} data={bumpRows(RE6_PRE, RE6_START, RE6_A, RE6_POST)}>
        {lineEl('#111', 0.75)}
      </Panel>
      <Panel {...RE} y0={391} h={18} xd={[0, 1000]} xt={RT_POS} yd={[0, 4]} yt={[0, 2, 4]} data={bumpRows(RE7_PRE, RE7_START, RE7_A, RE7_POST)}>
        {lineEl('#111', 0.75)}
      </Panel>
      <Panel {...RE} y0={417} h={17.5} xd={[0, 1000]} xt={RT_POS} yd={[0, 3]} yt={[0, 1, 2, 3]} data={bumpRows(RE8_PRE, RE8_START, RE8_A, [])}>
        {lineEl('#111', 0.75)}
      </Panel>

      {/* text overlay */}
      <svg width={550} height={467} style={{ position: 'absolute', left: 0, top: 0, pointerEvents: 'none' }}>
        <text {...txt} fontSize={4.3} textAnchor="middle" transform="translate(8.5,100) rotate(-90)">Amp(m/s²)</text>
        <text {...txt} fontSize={4.3} textAnchor="middle" transform="translate(286,101) rotate(-90)">Amp(m/s²)</text>
        <text {...txt} fontSize={4.3} textAnchor="middle" transform="translate(8.5,325) rotate(-90)">Amp(m/s²)</text>
        <text {...txt} fontSize={4.3} textAnchor="middle" transform="translate(288.5,325.5) rotate(-90)">Amp(m/s²)</text>
        <text {...txt} fontSize={4.3} textAnchor="middle" x={143.7} y={210.5}>t/s</text>
        <text {...txt} fontSize={4.3} textAnchor="middle" x={420} y={209.5}>f/Hz</text>
        <text {...txt} fontSize={4.3} textAnchor="middle" x={142.5} y={444.3}>t/s</text>
        <text {...txt} fontSize={4.3} textAnchor="middle" x={418.5} y={444.3}>f/Hz</text>
        <text {...txt} fontSize={3.4} x={299.5} y={109}>×10⁻⁷</text>
        <text {...txt} fontSize={3.4} x={299.5} y={161.3}>×10⁻⁷</text>
        <text {...txt} fontSize={3.4} x={296} y={313}>×10⁻³</text>
        <text {...txt} fontSize={3.4} x={296} y={338.5}>×10⁻³</text>
        <text {...txt} fontSize={3.4} x={296} y={365}>×10⁻³</text>
        <text {...txt} fontSize={3.4} x={296} y={390}>×10⁻³</text>
        <text {...txt} fontSize={3.4} x={296} y={416}>×10⁻³</text>
        <text fontFamily='"Liberation Serif", "Times New Roman", serif' fontWeight="bold" fontSize={13} fill="#000" textAnchor="middle" x={275.5} y={229}>(d)</text>
        <text fontFamily='"Liberation Serif", "Times New Roman", serif' fontWeight="bold" fontSize={13} fill="#000" textAnchor="middle" x={275.5} y={459}>(e)</text>
      </svg>
    </div>
  );
}
